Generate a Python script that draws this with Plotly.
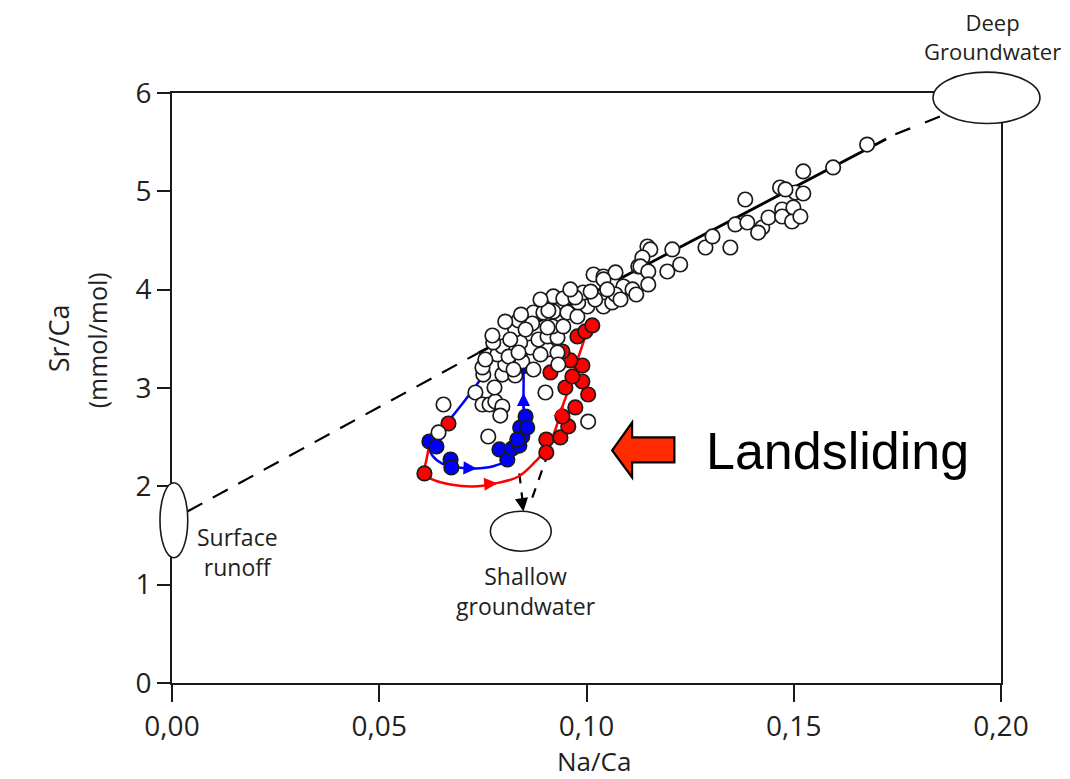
import plotly.graph_objects as go

# ---- data -------------------------------------------------------------
# open circles: stream water samples (Na/Ca, Sr/Ca)
white_na = [0.0655, 0.0643, 0.0763, 0.0732, 0.0749, 0.0766, 0.0780, 0.0797, 0.0792, 0.0751,
            0.0778, 0.0749, 0.0797, 0.0804, 0.0828, 0.0785, 0.0797, 0.0812, 0.0845, 0.0845,
            0.0775, 0.0773, 0.0824, 0.0872, 0.0865, 0.0840, 0.0906, 0.0930, 0.0884, 0.0906,
            0.0930, 0.0918, 0.0944, 0.0857, 0.0833, 0.0872, 0.0896, 0.0920, 0.0954, 0.0978,
            0.1002, 0.1041, 0.1062, 0.0901, 0.1004, 0.0836, 0.0932, 0.0828, 0.0836, 0.0869,
            0.0908, 0.0920, 0.0944, 0.0906, 0.0980, 0.0992, 0.1021, 0.1050, 0.1062, 0.1017,
            0.1041, 0.1070, 0.1089, 0.1111, 0.1120, 0.1125, 0.0973, 0.0853, 0.1041, 0.1070,
            0.1050, 0.1147, 0.1154, 0.1135, 0.1130, 0.1149, 0.1149, 0.1195, 0.1207, 0.1226,
            0.1287, 0.1304, 0.1347, 0.1359, 0.1388, 0.1383, 0.1424, 0.1414, 0.1439, 0.1472,
            0.1472, 0.1496, 0.1499, 0.1467, 0.1504, 0.1523, 0.1516, 0.1480, 0.1523, 0.1595,
            0.1677, 0.0889, 0.0842, 0.0804, 0.0961, 0.1010, 0.1082, 0.0816, 0.0756, 0.0889]
white_sr = [2.832, 2.548, 2.507, 2.954, 2.832, 2.832, 2.863, 2.812, 2.720, 3.137,
            3.005, 3.209, 3.137, 3.239, 3.127, 3.341, 3.422, 3.320, 3.270, 3.392,
            3.463, 3.534, 3.188, 3.188, 3.412, 3.463, 3.392, 3.361, 3.493, 3.524,
            3.514, 3.626, 3.626, 3.626, 3.666, 3.768, 3.768, 3.778, 3.768, 3.727,
            3.829, 3.829, 3.870, 2.954, 2.659, 3.361, 3.239, 3.595, 3.687, 3.656,
            3.788, 3.931, 3.910, 3.615, 3.870, 3.971, 3.900, 4.032, 4.083, 4.154,
            4.134, 4.175, 4.032, 4.002, 3.951, 4.236, 3.921, 3.595, 4.104, 3.951,
            4.002, 4.439, 4.409, 4.327, 4.236, 4.185, 4.053, 4.185, 4.409, 4.256,
            4.429, 4.541, 4.429, 4.663, 4.683, 4.917, 4.632, 4.581, 4.734, 4.815,
            4.744, 4.693, 4.836, 5.039, 4.988, 4.978, 4.744, 5.019, 5.202, 5.243,
            5.476, 3.900, 3.747, 3.676, 4.002, 3.981, 3.900, 3.493, 3.290, 3.341]

# filled blue circles
blue_na = [0.0621, 0.0638, 0.0672, 0.0674, 0.0790, 0.0809, 0.0821, 0.0838, 0.0845, 0.0840,
           0.0853, 0.0857, 0.0833, 0.0828, 0.0845]
blue_sr = [2.456, 2.405, 2.273, 2.192, 2.375, 2.273, 2.385, 2.415, 2.507, 2.598,
           2.710, 2.598, 2.476, 3.514, 3.219]

# filled red circles (landsliding period)
red_na = [0.0667, 0.0609, 0.0903, 0.0903, 0.0937, 0.0956, 0.0942, 0.0973, 0.1004, 0.0949,
          0.0990, 0.0966, 0.0913, 0.0990, 0.0961, 0.0942, 0.0978, 0.0997, 0.1014, 0.1000]
red_sr = [2.639, 2.131, 2.476, 2.344, 2.497, 2.609, 2.710, 2.802, 2.934, 3.005,
          3.066, 3.117, 3.158, 3.229, 3.280, 3.371, 3.524, 3.575, 3.636, 3.870]

# hysteresis paths
blue_path_na = [0.0828, 0.0804, 0.0775, 0.0744, 0.0701, 0.0660, 0.0635, 0.0621, 0.0628, 0.0652,
                0.0691, 0.0732, 0.0773, 0.0804, 0.0828, 0.0843, 0.0848, 0.0848, 0.0848, 0.0845]
blue_path_sr = [3.514, 3.412, 3.290, 3.087, 2.843, 2.629, 2.507, 2.395, 2.314, 2.232,
                2.192, 2.182, 2.202, 2.253, 2.344, 2.476, 2.680, 2.934, 3.158, 3.290]
red_path_na = [0.0621, 0.0614, 0.0609, 0.0628, 0.0672, 0.0725, 0.0780, 0.0836, 0.0877, 0.0908,
               0.0925, 0.0942, 0.0954, 0.0968, 0.0985, 0.0997, 0.1007]
red_path_sr = [2.415, 2.273, 2.131, 2.070, 2.019, 1.998, 2.029, 2.100, 2.253, 2.405,
               2.578, 2.812, 2.954, 3.158, 3.371, 3.524, 3.636]

# mixing line between end-members
mix_low_na, mix_low_sr = [0.0037, 0.0739], [1.744, 3.356]
mix_mid_na, mix_mid_sr = [0.0739, 0.1723], [3.356, 5.532]
mix_high_na, mix_high_sr = [0.1745, 0.1865], [5.580, 5.782]

# dashed links down to shallow groundwater
shallow_a_na, shallow_a_sr = [0.0838, 0.0848], [2.131, 1.770]
shallow_b_na, shallow_b_sr = [0.0908, 0.0862], [2.344, 1.800]

# end-member ellipses: (na_min, na_max, sr_min, sr_max)
deep_gw = (0.1836, 0.2094, 5.690, 6.212)
surface_runoff = (-0.0029, 0.0038, 1.273, 2.036)
shallow_gw = (0.0768, 0.0915, 1.340, 1.747)

x_ticks = [0.0, 0.05, 0.10, 0.15, 0.20]
y_ticks = [0, 1, 2, 3, 4, 5, 6]
X_MAX, Y_MAX = 0.20, 6.0

TXT = "#231f20"
FONT = "Open Sans"

fig = go.Figure()

def line(xs, ys, color="black", width=2, dash=None, shape="linear"):
    fig.add_trace(go.Scatter(x=xs, y=ys, mode="lines", hoverinfo="skip",
                             line=dict(color=color, width=width, dash=dash, shape=shape)))

line(mix_low_na, mix_low_sr, width=2.2, dash="17px,12px")
line(mix_mid_na, mix_mid_sr, width=2.8)
line(mix_high_na, mix_high_sr, width=2.2, dash="16px,16px")
line(shallow_a_na, shallow_a_sr, width=2.2, dash="10px,9px")
line(shallow_b_na, shallow_b_sr, width=2.2, dash="10px,9px")
line(blue_path_na, blue_path_sr, color="#0000ff", width=2.5, shape="spline")
line(red_path_na, red_path_sr, color="#ff0000", width=2.5, shape="spline")

def dots(xs, ys, fill):
    fig.add_trace(go.Scatter(x=xs, y=ys, mode="markers", cliponaxis=False,
                             marker=dict(size=14.5, color=fill,
                                         line=dict(color="#1a1a1a", width=1.7))))

dots(red_na, red_sr, "#ff0000")
dots(blue_na, blue_sr, "#0000ff")
dots(white_na, white_sr, "white")

# direction arrows on the paths
arrows = [
    (0.0735, 2.182, 0.0700, 2.188, "#0000ff"),
    (0.0848, 2.950, 0.0848, 2.780, "#0000ff"),
    (0.0785, 2.032, 0.0750, 2.020, "#ff0000"),
    (0.0943, 2.830, 0.0933, 2.660, "#ff0000"),
    (0.0848, 1.745, 0.0846, 1.800, "black"),
]
for hx, hy, tx, ty, c in arrows:
    fig.add_annotation(x=hx, y=hy, ax=tx, ay=ty, xref="x", yref="y", axref="x", ayref="y",
                       text="", showarrow=True, arrowhead=2, arrowsize=1.2,
                       arrowwidth=2.2, arrowcolor=c)

def ellipse(b, ref_domain):
    x0, x1, y0, y1 = b
    if ref_domain:
        fig.add_shape(type="circle", xref="x domain", yref="y domain",
                      x0=x0 / X_MAX, x1=x1 / X_MAX, y0=y0 / Y_MAX, y1=y1 / Y_MAX,
                      fillcolor="white", line=dict(color="#1a1a1a", width=1.6), layer="above")
    else:
        fig.add_shape(type="circle", xref="x", yref="y", x0=x0, x1=x1, y0=y0, y1=y1,
                      fillcolor="white", line=dict(color="#1a1a1a", width=1.6), layer="above")

ellipse(deep_gw, True)
ellipse(surface_runoff, True)
ellipse(shallow_gw, False)

# landsliding arrow
fig.add_shape(type="path", xref="x", yref="y", layer="above",
              path="M 0.1062 2.365 L 0.1110 2.649 L 0.1110 2.497 L 0.1212 2.497 "
                   "L 0.1212 2.243 L 0.1110 2.243 L 0.1110 2.090 Z",
              fillcolor="#ff2a00", line=dict(color="black", width=2.2))

def label(text, x, y, size=22, ref="data", family=FONT, angle=0, color=TXT):
    if ref == "data":
        xr, yr = "x", "y"
    else:
        xr, yr = "x domain", "y domain"
    fig.add_annotation(x=x, y=y, xref=xr, yref=yr, text=text, showarrow=False,
                       textangle=angle, xanchor="center", yanchor="middle",
                       font=dict(family=family, size=size, color=color))

label("Landsliding", 0.1605, 2.36, size=52, family="Liberation Sans", color="black")
label("Surface<br>runoff", 0.0158, 1.33, size=23)
label("Shallow<br>groundwater", 0.0855, 0.94, size=23)
label("Deep<br>Groundwater", 0.990, 1.095, size=22, ref="dom")
label("Na/Ca", 0.509, -0.133, size=26, ref="dom")
label("Sr/Ca", -0.137, 0.585, size=27, ref="dom", angle=-90)
label("(mmol/mol)", -0.091, 0.580, size=25, ref="dom", angle=-90)

axis_common = dict(showgrid=False, zeroline=False, showline=True, linecolor="#1a1a1a",
                   linewidth=2, mirror=True, ticks="outside", tickcolor="#1a1a1a",
                   tickwidth=1.5, tickfont=dict(family=FONT, size=28, color=TXT))

fig.update_xaxes(range=[0, X_MAX], tickvals=x_ticks, tickformat=".2f", ticklen=17,
                 **axis_common)
fig.update_yaxes(range=[0, Y_MAX], tickvals=y_ticks, ticklen=13, **axis_common)

fig.update_layout(width=1070, height=779, showlegend=False, separators=", ",
                  plot_bgcolor="white", paper_bgcolor="white",
                  margin=dict(l=172, r=69, t=93, b=96))

fig.write_html("out.html")
